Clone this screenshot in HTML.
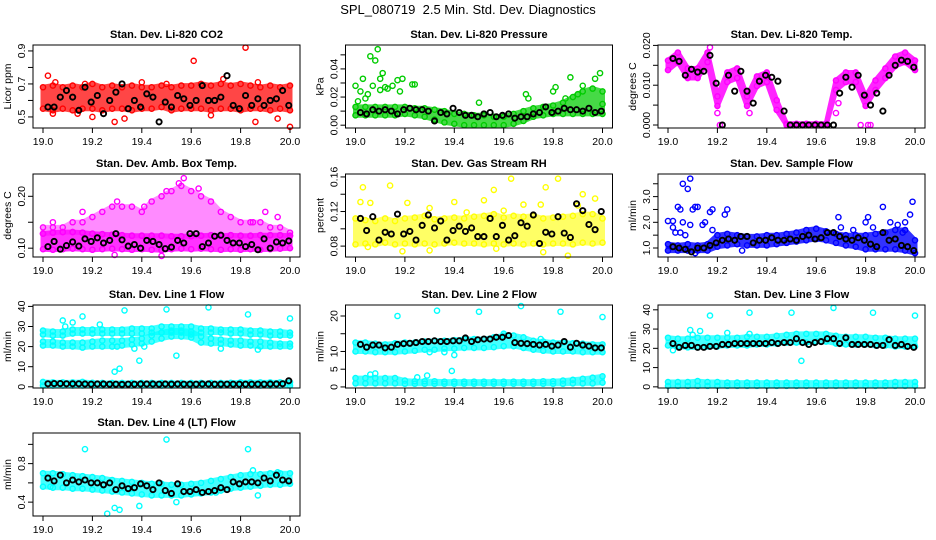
<!DOCTYPE html>
<html><head><meta charset="utf-8"><style>
html,body{margin:0;padding:0;background:#fff;}
svg{display:block;font-family:"Liberation Sans",sans-serif;}
</style></head><body>
<svg id="chart" width="936" height="540" viewBox="0 0 936 540">
<text x="468" y="14" text-anchor="middle" font-size="13" style="white-space:pre" xml:space="preserve">SPL_080719  2.5 Min. Std. Dev. Diagnostics</text>
</svg>
<script>
const times26 = [19.00,19.04,19.08,19.12,19.16,19.20,19.24,19.28,19.32,19.36,19.40,19.44,19.48,19.52,19.56,19.60,19.64,19.68,19.72,19.76,19.80,19.84,19.88,19.92,19.96,20.00];
const times40 = [19.02,19.045,19.07,19.095,19.12,19.145,19.17,19.195,19.22,19.245,19.27,19.295,19.32,19.345,19.37,19.395,19.42,19.445,19.47,19.495,19.52,19.545,19.57,19.595,19.62,19.645,19.67,19.695,19.72,19.745,19.77,19.795,19.82,19.845,19.87,19.895,19.92,19.945,19.97,19.995];
const xTicks = [19.0,19.2,19.4,19.6,19.8,20.0];
const xTickLabels = ["19.0","19.2","19.4","19.6","19.8","20.0"];

// Panel 1 CO2
const co2Lo = [0.55,0.54,0.55,0.54,0.55,0.55,0.54,0.55,0.55,0.54,0.55,0.55,0.56,0.54,0.55,0.55,0.55,0.54,0.55,0.55,0.54,0.55,0.55,0.54,0.55,0.54];
const co2Hi = [0.68,0.69,0.68,0.69,0.68,0.70,0.68,0.69,0.68,0.69,0.68,0.68,0.69,0.68,0.69,0.69,0.70,0.69,0.70,0.69,0.70,0.69,0.68,0.69,0.68,0.69];
const co2OutX = [19.02,19.61,19.82,20.0,19.29,19.86,19.04,19.95,19.33,19.2,19.68,19.73,19.87,19.05,19.17,19.5,19.14,19.4];
const co2OutY = [0.75,0.84,0.92,0.44,0.47,0.47,0.52,0.49,0.49,0.5,0.51,0.73,0.71,0.71,0.7,0.7,0.52,0.71];
const co2Black = [0.56,0.56,0.62,0.66,0.62,0.54,0.68,0.59,0.63,0.52,0.6,0.65,0.7,0.55,0.6,0.56,0.64,0.62,0.47,0.59,0.56,0.63,0.61,0.57,0.6,0.69,0.6,0.6,0.62,0.75,0.57,0.55,0.63,0.57,0.61,0.57,0.6,0.61,0.66,0.57];

// Panel 2 pressure
const presLo = [0.007,0.007,0.007,0.007,0.007,0.008,0.007,0.006,0.004,0.002,0.001,0.000,0.000,0.000,0.000,0.000,0.001,0.003,0.006,0.007,0.008,0.008,0.008,0.008,0.008,0.008];
const presHi = [0.013,0.013,0.013,0.013,0.013,0.013,0.012,0.012,0.011,0.010,0.008,0.008,0.007,0.007,0.006,0.006,0.008,0.010,0.012,0.013,0.014,0.016,0.020,0.024,0.026,0.024];
const presOutX = [19.0,19.02,19.03,19.05,19.06,19.07,19.08,19.09,19.1,19.11,19.1,19.13,19.15,19.17,19.18,19.23,19.24,19.01,19.04,19.5,19.69,19.7,19.81,19.8,19.87,19.92,19.97,19.99,20.0,19.85,19.9,19.12,19.19];
const presOutY = [0.028,0.024,0.033,0.022,0.049,0.028,0.046,0.054,0.033,0.037,0.025,0.026,0.028,0.032,0.024,0.029,0.029,0.017,0.019,0.016,0.022,0.019,0.027,0.024,0.034,0.028,0.033,0.037,0.015,0.019,0.022,0.027,0.033];
const presBlack = [0.009,0.008,0.011,0.010,0.011,0.010,0.008,0.011,0.012,0.011,0.011,0.010,0.003,0.009,0.008,0.012,0.009,0.007,0.007,0.006,0.008,0.009,0.006,0.007,0.008,0.005,0.006,0.006,0.008,0.009,0.013,0.009,0.010,0.012,0.011,0.011,0.010,0.012,0.009,0.010];

// Panel 3 temperature
const tempLo = [0.0138,0.0158,0.0118,0.0118,0.0158,0.0048,0.0108,0.0118,0.0048,0.0098,0.0108,0.0038,0.0,0.0,0.0,0.0,0.0,0.0088,0.0108,0.0108,0.0048,0.0088,0.0118,0.0148,0.0158,0.0138];
const tempHi = [0.0162,0.0182,0.0142,0.0142,0.0182,0.0072,0.0132,0.0142,0.0072,0.0122,0.0132,0.0062,0.0003,0.0003,0.0003,0.0003,0.0003,0.0112,0.0132,0.0132,0.0072,0.0112,0.0142,0.0172,0.0182,0.0162];
const tempOutX = [19.17,19.21,19.2,19.33,19.81,19.82,19.78,19.68,19.69];
const tempOutY = [0.0195,0.0,0.003,0.003,0.0,0.0,0.0,0.003,0.0055];
const tempBlack = [0.0167,0.016,0.0125,0.014,0.0133,0.0135,0.0175,0.0105,0.0,0.0125,0.0085,0.0135,0.0085,0.0055,0.011,0.0125,0.012,0.011,0.0035,0.0,0.0,0.0,0.0,0.0,0.0,0.0,0.0,0.008,0.012,0.0095,0.0125,0.0075,0.005,0.008,0.0035,0.0125,0.015,0.0163,0.016,0.0145];

// Panel 4 amb box temp
const ambLo = [0.098,0.097,0.098,0.099,0.098,0.097,0.098,0.099,0.098,0.097,0.098,0.097,0.096,0.098,0.099,0.098,0.099,0.098,0.097,0.098,0.097,0.098,0.097,0.098,0.099,0.100];
const ambMid = [0.128,0.130,0.131,0.131,0.130,0.128,0.127,0.126,0.125,0.124,0.124,0.124,0.124,0.123,0.123,0.123,0.124,0.125,0.124,0.125,0.124,0.124,0.125,0.125,0.125,0.124];
const ambHi = [0.14,0.14,0.14,0.15,0.15,0.16,0.17,0.18,0.18,0.18,0.17,0.19,0.20,0.21,0.22,0.21,0.20,0.19,0.17,0.16,0.15,0.15,0.15,0.14,0.14,0.13];
const ambOutX = [19.57,19.48,19.29,19.04,19.16,19.3,19.9,19.95,19.55,19.63,19.5,19.41,19.85];
const ambOutY = [0.235,0.085,0.087,0.15,0.17,0.19,0.17,0.16,0.225,0.215,0.21,0.18,0.15];
const ambBlack = [0.103,0.113,0.098,0.105,0.112,0.104,0.118,0.113,0.120,0.110,0.115,0.128,0.116,0.104,0.107,0.100,0.115,0.113,0.107,0.099,0.102,0.115,0.110,0.128,0.128,0.103,0.110,0.123,0.125,0.115,0.110,0.110,0.103,0.107,0.097,0.118,0.100,0.112,0.110,0.114];

// Panel 5 RH
const rhLo = [0.082,0.083,0.082,0.084,0.082,0.083,0.082,0.083,0.082,0.083,0.084,0.083,0.083,0.082,0.083,0.082,0.083,0.082,0.083,0.082,0.083,0.083,0.082,0.084,0.083,0.084];
const rhHi = [0.112,0.110,0.109,0.112,0.109,0.112,0.113,0.115,0.111,0.112,0.113,0.112,0.114,0.115,0.117,0.113,0.115,0.114,0.115,0.112,0.113,0.114,0.115,0.117,0.117,0.112];
const rhOutX = [19.02,19.03,19.06,19.14,19.21,19.4,19.52,19.56,19.63,19.77,19.82,19.92,19.97,19.05,19.19,19.57,19.76,19.86,19.3,19.75,19.3,19.68,19.45,19.9,19.6];
const rhOutY = [0.131,0.148,0.13,0.15,0.13,0.131,0.133,0.145,0.158,0.148,0.158,0.14,0.135,0.079,0.074,0.077,0.073,0.069,0.075,0.128,0.124,0.128,0.119,0.127,0.121];
const rhBlack = [0.112,0.098,0.114,0.087,0.096,0.094,0.117,0.094,0.097,0.087,0.104,0.116,0.101,0.109,0.087,0.098,0.103,0.097,0.101,0.091,0.091,0.112,0.091,0.104,0.087,0.092,0.107,0.103,0.116,0.083,0.096,0.094,0.114,0.095,0.090,0.129,0.121,0.105,0.099,0.120];

// Panel 6 sample flow
const flowLo = [0.9,0.9,0.9,0.9,0.9,1.05,1.1,1.15,1.1,1.1,1.1,1.15,1.2,1.25,1.3,1.35,1.3,1.2,1.1,1.05,0.95,0.95,0.95,0.95,0.9,0.8];
const flowHi = [1.15,1.1,1.15,1.1,1.15,1.5,1.55,1.5,1.45,1.45,1.5,1.5,1.55,1.6,1.7,1.75,1.65,1.55,1.5,1.5,1.5,1.55,1.6,1.7,1.7,1.3];
const flowOutX = [19.06,19.08,19.09,19.04,19.05,19.1,19.11,19.12,19.17,19.18,19.23,19.24,19.0,19.02,19.06,19.09,19.14,19.15,19.02,19.03,19.05,19.07,19.18,19.69,19.7,19.8,19.81,19.87,19.9,19.93,19.96,19.98,19.99,19.95,19.83,19.75,19.3,19.11];
const flowOutY = [3.5,3.3,3.7,2.6,2.5,2.5,2.6,2.6,2.4,2.5,2.3,2.5,2.05,2.05,2.0,1.9,1.9,2.0,1.8,1.6,1.6,1.5,1.7,2.2,1.8,2.0,2.2,2.6,2.0,1.9,2.0,2.3,2.8,1.6,1.8,1.7,0.9,0.8];
const flowBlack = [1.05,1.0,0.95,0.85,1.0,1.0,1.1,1.2,1.3,1.35,1.3,1.45,1.45,1.2,1.3,1.3,1.4,1.3,1.3,1.35,1.3,1.45,1.5,1.35,1.4,1.6,1.6,1.45,1.35,1.3,1.4,1.3,1.15,1.05,1.6,1.3,1.35,1.1,1.05,0.9];

// Panel 7 line 1 flow
const l1UpLo = [26,25.5,25.5,26.5,26.5,26.5,26.5,26.5,26.5,26.5,26.5,27,27,27,27,26,27,27,27,26.5,26.5,26,26,25.5,25.5,25.5];
const l1UpHi = [28,27.5,27.5,28.5,28.5,28.5,28.5,28.5,28.5,29,29,29,30,30,30,30,29,29,28.5,28.5,28.5,28,28,27.5,27.5,27];
const l1MidLo = [20.5,20.5,20,20,19.5,20,20,20,20.5,21,21.5,22.5,24,25,25,24.5,22,21.5,21.5,21,20.5,20.5,20,20,20,20];
const l1MidHi = [22.5,22.5,22,22,22,22.5,23,23,23,23.5,24,25.5,27,28,28,27.5,25,24,23.5,23,23,22.5,22.5,22,21.5,21.5];
const l1BotLo = [0.6,0.6,0.6,0.6,0.6,0.6,0.6,0.6,0.6,0.6,0.6,0.6,0.6,0.6,0.6,0.6,0.6,0.6,0.6,0.6,0.6,0.6,0.6,0.6,0.6,0.6];
const l1BotHi = [2.4,2.2,2.2,2.2,2.4,2.0,1.9,1.9,1.9,1.9,1.9,1.9,1.9,1.9,1.9,1.9,1.9,1.9,1.9,2.0,2.2,2.2,2.2,2.2,2.2,2.2];
const l1OutX = [19.08,19.09,19.12,19.16,19.23,19.33,19.5,19.67,19.83,20.0,19.29,19.31,19.39,19.54,19.37,19.3,19.41,19.72,19.87];
const l1OutY = [33,30,32,35,31,38,38.5,39.5,36,34,7.5,9,13,15.5,19,20,20,19,18.5];
const l1Black = [1.5,1.6,1.6,1.5,1.5,1.5,1.4,1.3,1.4,1.4,1.3,1.3,1.2,1.3,1.3,1.4,1.4,1.4,1.3,1.4,1.3,1.4,1.3,1.3,1.3,1.4,1.4,1.3,1.3,1.3,1.3,1.3,1.3,1.3,1.3,1.3,1.4,1.4,1.5,3.0];

// Panel 8 line 2 flow
const l2UpLo = [10,10,9.8,9.8,9.8,10,10.2,10.5,10.5,10.8,10.8,11,11,11,11.2,11.5,11.5,11,10.5,10.2,10,10,10,9.8,9.8,9.8];
const l2UpHi = [12.5,12.5,12.2,12,12.3,12.5,12.5,12.8,13,13,13.2,13.5,13.5,13.5,14,14.5,14.5,14,13,12.8,12.5,12.5,12.3,12.2,12,12];
const l2BotLo = [1.0,1.0,1.0,1.0,1.0,0.9,0.9,0.9,0.9,0.9,0.9,0.9,0.9,0.9,0.9,0.9,0.9,0.9,0.9,0.9,0.9,0.9,1.0,1.0,1.0,1.2];
const l2BotHi = [2.5,2.5,2.5,2.5,2.5,1.8,1.6,1.6,1.6,1.5,1.5,1.5,1.5,1.5,1.5,1.5,1.5,1.5,1.5,1.6,1.6,1.8,2.0,2.3,2.6,3.0];
const l2OutX = [19.17,19.33,19.5,19.67,19.83,20.0,19.6,19.4,19.3,19.39,19.06,19.08,19.29,19.25,19.36,19.75];
const l2OutY = [20,21.5,21.2,22.8,21.2,19.7,15,9,9.8,4.5,3.5,3.8,3.2,2.7,9.8,13.5];
const l2Black = [12,11.2,11.8,11.8,11,11.2,12,12.2,12.3,12.5,12.8,12.8,13,12.8,12.8,13,13,13.8,12.8,13.3,13.5,13.5,14,14,14.5,12.5,12.3,12.2,12,11.8,12,11.5,11.8,12.8,11.2,12.3,11.8,11.5,11,11];

// Panel 9 line 3 flow
const l3UpLo = [21.5,21,20.5,20.5,21,21,21.5,21.5,21.5,22,22,22.5,23,23,23,23.5,23.5,22.5,22,22,22,21.5,21.5,21,21,21];
const l3UpHi = [25.5,25,25,25.5,25.5,25.5,25.5,25.5,26,26,26,26.5,27,27.5,27.5,27.5,27.5,26.5,26,26,26,25.5,25.5,25,25,25];
const l3BotLo = [0.5,0.5,0.5,0.5,0.5,0.5,0.5,0.5,0.5,0.5,0.5,0.5,0.5,0.5,0.5,0.5,0.5,0.5,0.5,0.5,0.5,0.5,0.5,0.5,0.5,0.5];
const l3BotHi = [2.5,2.5,2.5,3.0,2.5,2.5,2.2,2.2,2.2,2.2,2.2,2.2,2.2,2.2,2.2,2.2,2.2,2.2,2.2,2.2,2.2,2.2,2.2,2.5,2.5,2.5];
const l3OutX = [19.17,19.33,19.5,19.67,19.83,20.0,19.09,19.13,19.1,19.24,19.02,19.54,19.33];
const l3OutY = [37,38.5,38.5,41,38.5,37,29.5,29,27,28,19,13.5,27.5];
const l3Black = [22.5,20.5,21.5,21.5,20.5,20.5,21,21,22,22,22.5,22.5,22.5,22.5,22.5,22.5,23,22.5,23,23,25,23,22,23,23.5,25,25,22.5,25.5,22,22,22,22,21.5,21.5,24.5,21.5,22,21,20.5];

// Panel 10 line 4 flow
const l4Lo = [0.56,0.55,0.55,0.54,0.54,0.53,0.52,0.51,0.50,0.49,0.48,0.47,0.47,0.47,0.47,0.48,0.49,0.50,0.52,0.54,0.55,0.56,0.57,0.58,0.58,0.59];
const l4Hi = [0.70,0.70,0.69,0.68,0.67,0.66,0.65,0.63,0.62,0.61,0.60,0.59,0.59,0.58,0.58,0.59,0.60,0.62,0.64,0.66,0.68,0.69,0.69,0.70,0.70,0.70];
const l4OutX = [19.17,19.5,19.83,19.26,19.29,19.31,19.39,19.54,19.87,19.85,19.03,19.7,19.95];
const l4OutY = [0.95,1.05,0.95,0.28,0.34,0.32,0.36,0.4,0.47,0.73,0.56,0.5,0.71];
const l4Black = [0.65,0.62,0.68,0.6,0.63,0.61,0.63,0.6,0.6,0.58,0.6,0.53,0.57,0.54,0.55,0.59,0.57,0.53,0.6,0.52,0.49,0.59,0.51,0.51,0.53,0.5,0.51,0.52,0.55,0.53,0.61,0.59,0.61,0.61,0.6,0.65,0.62,0.68,0.63,0.62];

const yTicks1 = [0.5,0.6,0.7,0.8,0.9];   const yLab1 = ["0.5","","0.7","","0.9"];
const yTicks2 = [0,0.01,0.02,0.03,0.04,0.05]; const yLab2 = ["0.00","","0.02","","0.04",""];
const yTicks3 = [0,0.005,0.01,0.015,0.02]; const yLab3 = ["0.000","","0.010","","0.020"];
const yTicks4 = [0.10,0.15,0.20]; const yLab4 = ["0.10","","0.20"];
const yTicks5 = [0.08,0.10,0.12,0.14,0.16]; const yLab5 = ["0.08","","0.12","","0.16"];
const yTicks6 = [1.0,1.5,2.0,2.5,3.0,3.5]; const yLab6 = ["1.0","","2.0","","3.0",""];
const yTicks7 = [0,10,20,30,40]; const yLab7 = ["0","10","20","30","40"];
const yTicks8 = [0,5,10,15,20]; const yLab8 = ["0","5","10","","20"];
const yTicks9 = [0,10,20,30,40]; const yLab9 = ["0","10","20","30","40"];
const yTicks10 = [0.4,0.6,0.8,1.0]; const yLab10 = ["0.4","","0.8",""];

const NS = "http://www.w3.org/2000/svg";
const svg = document.getElementById("chart");
function mk(tag, attrs, parent){
  const e = document.createElementNS(NS, tag);
  for (const k in attrs) e.setAttribute(k, attrs[k]);
  parent.appendChild(e); return e;
}
const colL = [33, 345.5, 658], rowT = [45, 174, 305, 433], PW = 267, PH = 83;

function panel(name, col, row, title, ylabel, ymin, ymax, ticks, labs, color, bands, outX, outY, black){
  const L = colL[col], T = rowT[row], B = T + PH;
  const xs = v => L + 10 + (v - 19) * 247;
  const ys = v => B - (v - ymin) / (ymax - ymin) * PH;
  const g = mk("g", {}, svg);
  
  
  const t = mk("text", {x: L + PW/2, y: T - 7, "text-anchor": "middle", "font-size": 11, "font-weight": "bold"}, g);
  t.textContent = title;
  
  
  const yl = mk("text", {x: 0, y: 0, "text-anchor": "middle", "font-size": 10.5, transform: `translate(${L-22},${T+PH/2}) rotate(-90)`}, g);
  yl.textContent = ylabel;
  
  
  const sg = mk("g", {}, g);
  
  
  bands.forEach(bd => {
    const op = bd[2] || 0.72;
    let d = "";
    times26.forEach((tv, i) => { d += (i ? "L" : "M") + xs(tv).toFixed(1) + "," + ys(bd[1][i]).toFixed(1); });
    for (let i = times26.length - 1; i >= 0; i--) d += "L" + xs(times26[i]).toFixed(1) + "," + ys(bd[0][i]).toFixed(1);
    const p = mk("path", {d: d + "Z", fill: color, stroke: color, "stroke-width": 5, "stroke-linejoin": "round", opacity: op}, sg);
    
    
    times26.forEach((tv, i) => {
      [bd[0][i], bd[1][i]].forEach(v => {
        const c = mk("circle", {cx: xs(tv), cy: ys(v), r: 2.6, fill: "none", stroke: color, "stroke-width": 1.4}, sg);
        
        
      });
    });
  });
  outX.forEach((xv, i) => {
    const c = mk("circle", {cx: xs(xv), cy: ys(outY[i]), r: 2.6, fill: "none", stroke: color, "stroke-width": 1.4}, sg);
    
    
  });
  black.forEach((v, i) => {
    const c = mk("circle", {cx: xs(times40[i]), cy: ys(v), r: 2.6, fill: "none", stroke: "#000", "stroke-width": 1.9}, sg);
    
    
  });
  const box = mk("rect", {x: L, y: T, width: PW, height: PH, fill: "none", stroke: "#000", "stroke-width": 1}, g);
  
  
  xTicks.forEach((v, i) => {
    mk("line", {x1: xs(v), x2: xs(v), y1: B, y2: B + 5, stroke: "#000"}, g);
    const tx = mk("text", {x: xs(v), y: B + 17, "text-anchor": "middle", "font-size": 10.5}, g);
    tx.textContent = xTickLabels[i];
    
    
  });
  ticks.forEach((v, i) => {
    mk("line", {x1: L - 5, x2: L, y1: ys(v), y2: ys(v), stroke: "#000"}, g);
    if (labs[i]) {
      const ty = mk("text", {x: 0, y: 0, "text-anchor": "middle", "font-size": 10.5, transform: `translate(${L-8},${ys(v)}) rotate(-90)`}, g);
      ty.textContent = labs[i];
      
      
    }
  });
}

panel("co2", 0, 0, "Stan. Dev. Li-820 CO2", "Licor ppm", 0.433, 0.936, yTicks1, yLab1, "#ff0000", [[co2Lo, co2Hi]], co2OutX, co2OutY, co2Black);
panel("pressure", 1, 0, "Stan. Dev. Li-820 Pressure", "kPa", -0.002, 0.057, yTicks2, yLab2, "#00cc00", [[presLo, presHi]], presOutX, presOutY, presBlack);
panel("temp", 2, 0, "Stan. Dev. Li-820 Temp.", "degrees C", -0.00075, 0.0201, yTicks3, yLab3, "#ff00ff", [[tempLo, tempHi, 0.85]], tempOutX, tempOutY, tempBlack);
panel("amb-box-temp", 0, 1, "Stan. Dev. Amb. Box Temp.", "degrees C", 0.083, 0.243, yTicks4, yLab4, "#ff00ff", [[ambLo, ambMid, 0.8], [ambMid, ambHi, 0.45]], ambOutX, ambOutY, ambBlack);
panel("gas-rh", 1, 1, "Stan. Dev. Gas Stream RH", "percent", 0.0674, 0.1634, yTicks5, yLab5, "#ffff00", [[rhLo, rhHi, 0.6]], rhOutX, rhOutY, rhBlack);
panel("sample-flow", 2, 1, "Stan. Dev. Sample Flow", "ml/min", 0.65, 3.88, yTicks6, yLab6, "#0000ff", [[flowLo, flowHi, 0.8]], flowOutX, flowOutY, flowBlack);
panel("line1-flow", 0, 2, "Stan. Dev. Line 1 Flow", "ml/min", -0.6, 40.7, yTicks7, yLab7, "#00ffff", [[l1UpLo, l1UpHi], [l1MidLo, l1MidHi], [l1BotLo, l1BotHi]], l1OutX, l1OutY, l1Black);
panel("line2-flow", 1, 2, "Stan. Dev. Line 2 Flow", "ml/min", -0.3, 23.1, yTicks8, yLab8, "#00ffff", [[l2UpLo, l2UpHi], [l2BotLo, l2BotHi]], l2OutX, l2OutY, l2Black);
panel("line3-flow", 2, 2, "Stan. Dev. Line 3 Flow", "ml/min", -0.6, 42.5, yTicks9, yLab9, "#00ffff", [[l3UpLo, l3UpHi], [l3BotLo, l3BotHi]], l3OutX, l3OutY, l3Black);
panel("line4-flow", 0, 3, "Stan. Dev. Line 4 (LT) Flow", "ml/min", 0.256, 1.118, yTicks10, yLab10, "#00ffff", [[l4Lo, l4Hi]], l4OutX, l4OutY, l4Black);
</script>
</body></html>
